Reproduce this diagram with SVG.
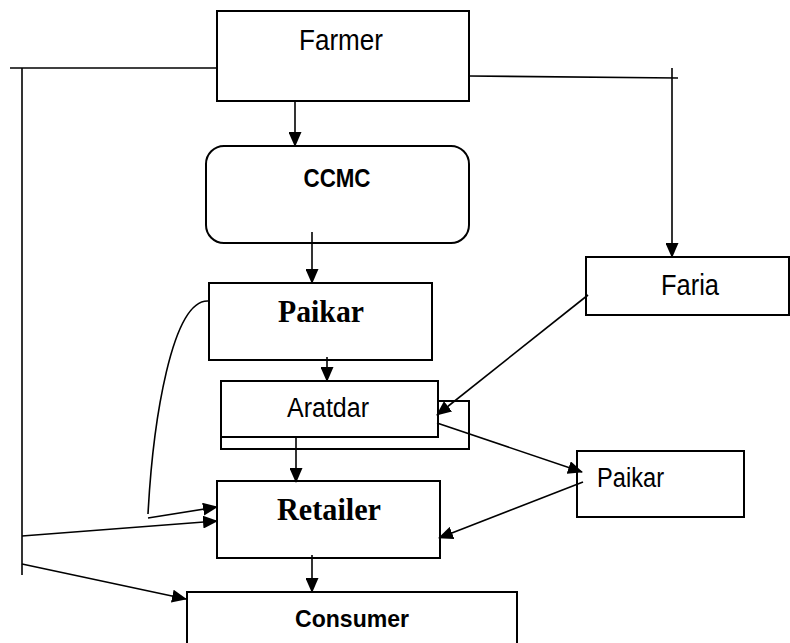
<svg xmlns="http://www.w3.org/2000/svg" width="790" height="643" viewBox="0 0 790 643">
<style>
.box{fill:#fff;stroke:#000;stroke-width:2}
.ln{fill:none;stroke:#000;stroke-width:1.6}
.sans{font-family:"Liberation Sans",Arial,sans-serif;fill:#000}
.serif{font-family:"Liberation Serif","Times New Roman",serif;font-weight:bold;fill:#000}
</style>
<defs>
<marker id="ah" markerUnits="userSpaceOnUse" markerWidth="15" markerHeight="13" refX="14" refY="6.5" orient="auto">
<path d="M0,0 L15,6.5 L0,13 Z" fill="#000"/>
</marker>
</defs>
<g id="farmer">
<rect class="box" x="217" y="11" width="252" height="90"/>
<text class="sans" x="341" y="50" font-size="29" text-anchor="middle" textLength="84" lengthAdjust="spacingAndGlyphs">Farmer</text>
</g>
<g id="ccmc">
<rect class="box" x="206" y="146" width="263" height="97" rx="18" ry="18"/>
<text class="sans" x="337" y="187" font-size="25" font-weight="bold" text-anchor="middle" textLength="67" lengthAdjust="spacingAndGlyphs">CCMC</text>
</g>
<g id="faria">
<rect class="box" x="586" y="257" width="203" height="58"/>
<text class="sans" x="690" y="295" font-size="29" text-anchor="middle" textLength="58" lengthAdjust="spacingAndGlyphs">Faria</text>
</g>
<g id="paikar">
<rect class="box" x="209" y="283" width="223" height="77"/>
<text class="serif" x="321" y="322" font-size="31" text-anchor="middle" textLength="86" lengthAdjust="spacingAndGlyphs">Paikar</text>
</g>
<g id="aratdar">
<rect class="box" x="221" y="401" width="248" height="48"/>
<rect class="box" x="221" y="381" width="217" height="56"/>
<text class="sans" x="328" y="417" font-size="27" text-anchor="middle" textLength="82" lengthAdjust="spacingAndGlyphs">Aratdar</text>
</g>
<g id="paikar2">
<rect class="box" x="577" y="451" width="167" height="66"/>
<text class="sans" x="597" y="487" font-size="27" textLength="67" lengthAdjust="spacingAndGlyphs">Paikar</text>
</g>
<g id="retailer">
<rect class="box" x="217" y="481" width="223" height="77"/>
<text class="serif" x="329" y="520" font-size="31" text-anchor="middle" textLength="104" lengthAdjust="spacingAndGlyphs">Retailer</text>
</g>
<g id="consumer">
<rect class="box" x="187" y="592" width="330" height="60"/>
<text class="sans" x="352" y="627" font-size="24" font-weight="bold" text-anchor="middle" textLength="114" lengthAdjust="spacingAndGlyphs">Consumer</text>
</g>
<g id="connectors">
<path class="ln" d="M10,68 H217"/>
<path class="ln" d="M22,68 V575"/>
<path class="ln" d="M295,101 V146" marker-end="url(#ah)"/>
<path class="ln" d="M469,76 L678,78"/>
<path class="ln" d="M672,68 V257" marker-end="url(#ah)"/>
<path class="ln" d="M312,232 V283" marker-end="url(#ah)"/>
<path class="ln" d="M327,357 V381" marker-end="url(#ah)"/>
<path class="ln" d="M588,295 L437,415" marker-end="url(#ah)"/>
<path class="ln" d="M437,423 L582,472" marker-end="url(#ah)"/>
<path class="ln" d="M296,437 V482" marker-end="url(#ah)"/>
<path class="ln" d="M583,482 L439,538" marker-end="url(#ah)"/>
<path class="ln" d="M208,301 C172,300 153,420 148,514"/>
<path class="ln" d="M148,518 L217,507" marker-end="url(#ah)"/>
<path class="ln" d="M22,536 L217,521" marker-end="url(#ah)"/>
<path class="ln" d="M22,564 L186,599" marker-end="url(#ah)"/>
<path class="ln" d="M312,555 V592" marker-end="url(#ah)"/>
</g>
</svg>
